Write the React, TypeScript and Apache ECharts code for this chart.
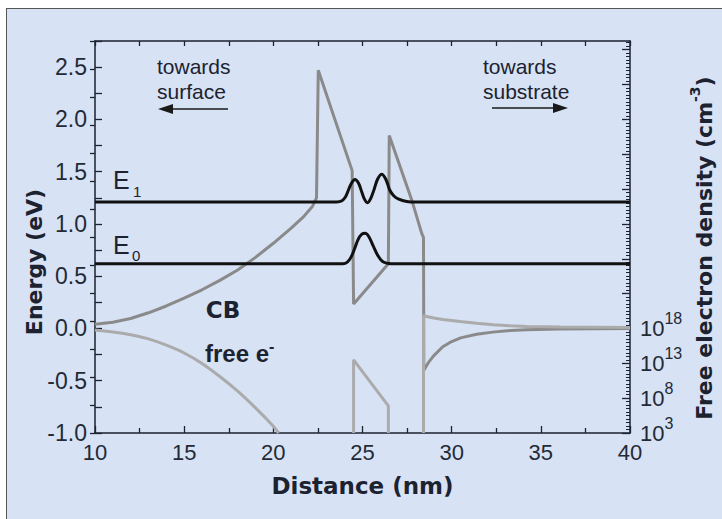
import React, { useEffect, useRef } from "react";
import * as echarts from "echarts";

// ---- Conduction band (energy, eV) vs distance (nm)
const cbDistance = [10, 11, 12, 13, 14, 15, 16, 17, 18, 19, 20, 21, 21.7, 22.2, 22.42, 22.52, 24.42, 24.5, 26.45, 26.5, 27.76, 28.32, 28.42, 28.44, 28.7, 29.0, 29.5, 30.0, 30.5, 31.4, 32.3, 33.3, 34.2, 36.0, 40.0];
const cbEnergy = [0.04, 0.06, 0.095, 0.15, 0.215, 0.29, 0.37, 0.46, 0.56, 0.68, 0.815, 0.96, 1.07, 1.17, 1.25, 2.47, 1.51, 0.235, 0.62, 1.845, 1.23, 0.91, 0.87, -0.4, -0.325, -0.26, -0.175, -0.125, -0.09, -0.055, -0.035, -0.02, -0.012, -0.004, 0.0];

// ---- Free electron density, log10(n / cm^-3), three segments
const freeLeftDistance = [10, 11, 12, 13, 14, 15, 16, 17, 18, 19, 20, 20.3];
const freeLeftLog10 = [17.78, 17.48, 17.1, 16.5, 15.6, 14.48, 12.98, 11.1, 9.0, 6.6, 3.98, 3.0];
const freeMidDistance = [24.5, 24.5, 26.45, 26.45];
const freeMidLog10 = [3, 13.5, 6.9, 3];
const freeRightDistance = [28.42, 28.42, 28.6, 29.0, 29.5, 30.47, 31.4, 32.34, 33.3, 34.21, 36.08, 40];
const freeRightLog10 = [3, 19.84, 19.71, 19.5, 19.3, 19.0, 18.75, 18.53, 18.38, 18.29, 18.2, 18.15];

// ---- Subband wavefunctions drawn at their energies
const e1Distance = [10, 23.55, 23.85, 24.05, 24.2, 24.38, 24.58, 24.78, 24.95, 25.1, 25.27, 25.45, 25.65, 25.85, 26.08, 26.3, 26.54, 26.75, 27.0, 27.48, 28.0, 40];
const e1Energy = [1.21, 1.21, 1.222, 1.26, 1.32, 1.39, 1.426, 1.39, 1.31, 1.24, 1.203, 1.24, 1.33, 1.43, 1.476, 1.43, 1.32, 1.27, 1.24, 1.215, 1.21, 1.21];
const e0Distance = [10, 23.9, 24.15, 24.35, 24.55, 24.75, 24.95, 25.15, 25.35, 25.6, 25.85, 26.1, 26.35, 26.6, 40];
const e0Energy = [0.62, 0.62, 0.635, 0.68, 0.76, 0.85, 0.9, 0.91, 0.88, 0.79, 0.7, 0.645, 0.625, 0.62, 0.62];

// ---- Right axis tick labels (exponents)
const densityLabelExponents = [3, 8, 13, 18];
const densityMajorExponents = [3, 8, 13, 18, 23, 28, 33, 38, 43, 48, 53, 58];

const zip = (xs: number[], ys: number[]) => xs.map((x, i) => [x, ys[i]]);

const AX = "#1b2230";
const LBL = "#232a36";
const TXT = "#1c2230";
const SANS = '"Liberation Sans", Arial, sans-serif';
const BOLD = '"DejaVu Sans", Verdana, sans-serif';

export default function App() {
  const ref = useRef<HTMLDivElement>(null);
  useEffect(() => {
    if (!ref.current) return;
    const chart = echarts.init(ref.current, undefined, { renderer: "svg" });
    const minorExp: number[] = [];
    for (let v = 3; v <= 59; v += 0.5) minorExp.push(v);

    const option: any = {
      animation: false,
      grid: { left: 95, right: 92, top: 41, bottom: 86, containLabel: false },
      xAxis: [
        {
          type: "value", position: "bottom", min: 10, max: 40, interval: 5,
          axisLine: { onZero: false, lineStyle: { color: AX, width: 1.5 } },
          axisTick: { inside: true, length: 7, lineStyle: { color: AX, width: 1.3 } },
          minorTick: { show: true, splitNumber: 2, length: 5, lineStyle: { color: AX, width: 1.3 } },
          axisLabel: { color: LBL, fontSize: 22, fontFamily: SANS, margin: 8 },
          splitLine: { show: false },
          name: "Distance (nm)", nameLocation: "middle", nameGap: 41,
          nameTextStyle: { fontFamily: BOLD, fontWeight: "bold", fontSize: 23, color: TXT },
        },
        {
          type: "value", position: "top", min: 10, max: 40, interval: 2.5,
          axisLine: { onZero: false, lineStyle: { color: AX, width: 1.5 } },
          axisTick: { inside: true, length: 5, lineStyle: { color: AX, width: 1.3 } },
          axisLabel: { show: false },
          splitLine: { show: false },
        },
      ],
      yAxis: [
        {
          type: "value", position: "left", min: -1, max: 2.75, interval: 0.5,
          axisLine: { onZero: false, lineStyle: { color: AX, width: 1.5 } },
          axisTick: { inside: true, length: 7, lineStyle: { color: AX, width: 1.3 } },
          minorTick: { show: true, splitNumber: 2, length: 7, lineStyle: { color: AX, width: 1.3 } },
          axisLabel: {
            color: LBL, fontSize: 23, fontFamily: SANS, margin: 8, showMaxLabel: false,
            formatter: (v: number) => (v <= 2.5 + 1e-9 ? v.toFixed(1) : ""),
          },
          splitLine: { show: false },
        },
        {
          type: "value", position: "right", min: 3, max: 59.25,
          axisLine: { onZero: false, lineStyle: { color: AX, width: 1.5 } },
          axisTick: { inside: true, length: 8, customValues: densityMajorExponents, lineStyle: { color: AX, width: 1.3 } },
          axisLabel: {
            customValues: densityLabelExponents, margin: 10,
            formatter: (v: number) => `{b|10}{s|${Math.round(v)}}`,
            rich: {
              b: { fontSize: 22, fontFamily: SANS, color: LBL, lineHeight: 36 },
              s: { fontSize: 16, fontFamily: SANS, color: LBL, lineHeight: 16, verticalAlign: "top" },
            },
          },
          splitLine: { show: false },
        },
        {
          type: "value", position: "right", min: 3, max: 59.25,
          axisLine: { show: false, onZero: false },
          axisTick: { show: true, inside: true, length: 4, customValues: minorExp, lineStyle: { color: AX, width: 1 } },
          axisLabel: { show: false, customValues: minorExp },
          splitLine: { show: false },
        },
        {
          type: "value", position: "left", min: -1, max: 2.5, interval: 0.5,
          axisLine: { show: false, onZero: false },
          axisTick: { inside: false, length: 5, lineStyle: { color: AX, width: 1.3 } },
          minorTick: { show: true, splitNumber: 2, length: 5, lineStyle: { color: AX, width: 1.3 } },
          axisLabel: { show: false },
          splitLine: { show: false },
        },
      ],
      series: [
        {
          name: "CB", type: "line", xAxisIndex: 0, yAxisIndex: 0, data: zip(cbDistance, cbEnergy),
          showSymbol: false, lineStyle: { color: "#8a8a8a", width: 3 }, z: 2,
        },
        {
          name: "free e- (surface side)", type: "line", xAxisIndex: 0, yAxisIndex: 1, data: zip(freeLeftDistance, freeLeftLog10),
          showSymbol: false, smooth: 0.2, lineStyle: { color: "#ababab", width: 3 }, z: 2,
        },
        {
          name: "free e- (well)", type: "line", xAxisIndex: 0, yAxisIndex: 1, data: zip(freeMidDistance, freeMidLog10),
          showSymbol: false, lineStyle: { color: "#ababab", width: 3 }, z: 2,
        },
        {
          name: "free e- (substrate side)", type: "line", xAxisIndex: 0, yAxisIndex: 1, data: zip(freeRightDistance, freeRightLog10),
          showSymbol: false, lineStyle: { color: "#ababab", width: 3 }, z: 2,
        },
        {
          name: "E1", type: "line", xAxisIndex: 0, yAxisIndex: 0, data: zip(e1Distance, e1Energy),
          showSymbol: false, smooth: 0.35, lineStyle: { color: "#111111", width: 3 }, z: 3,
        },
        {
          name: "E0", type: "line", xAxisIndex: 0, yAxisIndex: 0, data: zip(e0Distance, e0Energy),
          showSymbol: false, smooth: 0.35, lineStyle: { color: "#111111", width: 3 }, z: 3,
        },
      ],
      graphic: [
        { type: "text", x: 34.5, y: 262, rotation: Math.PI / 2,
          style: { text: "Energy (eV)", font: `bold 22px ${BOLD}`, fill: TXT, align: "center", verticalAlign: "middle", textAlign: "center", textVerticalAlign: "middle" } },
        { type: "text", x: 704, y: 248, rotation: Math.PI / 2,
          style: {
            text: "{b|Free electron density (cm}{s|-3}{b|)}", fill: TXT, align: "center", verticalAlign: "middle", textAlign: "center", textVerticalAlign: "middle",
            rich: {
              b: { fontFamily: BOLD, fontWeight: "bold", fontSize: 22, lineHeight: 32, fill: TXT, color: TXT },
              s: { fontFamily: BOLD, fontWeight: "bold", fontSize: 14, lineHeight: 14, verticalAlign: "top", fill: TXT, color: TXT },
            },
          } },
        { type: "text", x: 157, y: 54, style: { text: "towards\nsurface", font: `21px ${SANS}`, lineHeight: 25, fill: TXT, verticalAlign: "top", textVerticalAlign: "top" } },
        { type: "line", shape: { x1: 170, y1: 109, x2: 228, y2: 109 }, style: { stroke: "#1a1a1a", lineWidth: 1.5 } },
        { type: "polygon", shape: { points: [[158, 109], [173, 104], [173, 114]] }, style: { fill: "#1a1a1a" } },
        { type: "text", x: 483, y: 54, style: { text: "towards\nsubstrate", font: `21px ${SANS}`, lineHeight: 25, fill: TXT, verticalAlign: "top", textVerticalAlign: "top" } },
        { type: "line", shape: { x1: 492, y1: 108, x2: 556, y2: 108 }, style: { stroke: "#1a1a1a", lineWidth: 1.5 } },
        { type: "polygon", shape: { points: [[568, 108], [553, 103], [553, 113]] }, style: { fill: "#1a1a1a" } },
        { type: "text", x: 113, y: 179.5, style: { text: "E", font: `25px ${SANS}`, fill: TXT, verticalAlign: "middle", textVerticalAlign: "middle" } },
        { type: "text", x: 133, y: 191, style: { text: "1", font: `15px ${SANS}`, fill: TXT, verticalAlign: "middle", textVerticalAlign: "middle" } },
        { type: "text", x: 113, y: 244.5, style: { text: "E", font: `25px ${SANS}`, fill: TXT, verticalAlign: "middle", textVerticalAlign: "middle" } },
        { type: "text", x: 132, y: 255, style: { text: "0", font: `15px ${SANS}`, fill: TXT, verticalAlign: "middle", textVerticalAlign: "middle" } },
        { type: "text", x: 223, y: 309.6, style: { text: "CB", font: `bold 23px ${BOLD}`, fill: TXT, align: "center", textAlign: "center", verticalAlign: "middle", textVerticalAlign: "middle" } },
        { type: "text", x: 205, y: 353,
          style: {
            text: "{b|free e}{s|-}", fill: TXT, verticalAlign: "middle", textVerticalAlign: "middle",
            rich: {
              b: { fontFamily: SANS, fontWeight: "bold", fontSize: 24, lineHeight: 30, fill: TXT, color: TXT },
              s: { fontFamily: SANS, fontWeight: "bold", fontSize: 16, lineHeight: 16, verticalAlign: "top", fill: TXT, color: TXT },
            },
          } },
      ],
    };
    chart.setOption(option);
    return () => chart.dispose();
  }, []);

  return (
    <div style={{ position: "absolute", left: 0, top: 0, width: 722, height: 519, background: "#ffffff", overflow: "hidden" }}>
      <div style={{ position: "absolute", left: 6, top: 8, width: 740, height: 540, background: "#d7e2f4", border: "1.5px solid #555" }} />
      <div ref={ref} style={{ position: "absolute", left: 0, top: 0, width: 722, height: 519 }} />
    </div>
  );
}
